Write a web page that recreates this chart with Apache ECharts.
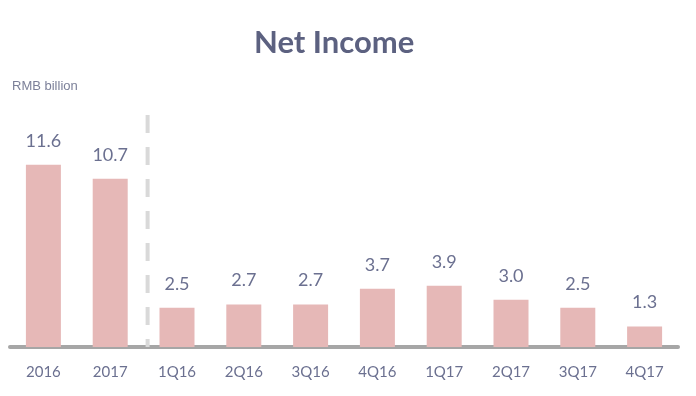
<!DOCTYPE html>
<html><head><meta charset="utf-8">
<script src="https://cdn.jsdelivr.net/npm/echarts@6/dist/echarts.min.js"></script>
<style>html,body{margin:0;padding:0;background:#fff}#c{width:696px;height:396px}</style>
</head><body><div id="c"></div>
<script>
const categories = ['2016','2017','1Q16','2Q16','3Q16','4Q16','1Q17','2Q17','3Q17','4Q17'];
const netIncome = [11.6, 10.7, 2.5, 2.7, 2.7, 3.7, 3.9, 3.0, 2.5, 1.3];
const titleText = 'Net Income';
const unitText = 'RMB billion';

const chart = echarts.init(document.getElementById('c'));
chart.setOption({
  animation: false,
  backgroundColor: '#ffffff',
  title: {
    text: titleText,
    left: 249, top: 22,
    textStyle: { fontFamily: 'Lato', fontWeight: 'bold', fontSize: 31, color: '#5c6180' }
  },
  graphic: [{
    type: 'text', left: 12, top: 80,
    style: { text: unitText, font: '13px "Liberation Sans", Arial', fill: '#7c8099' }
  }],
  grid: { left: 10, right: 18, top: 127, bottom: 49 },
  xAxis: {
    type: 'category', data: categories,
    axisLine: { lineStyle: { color: '#a6a6a6', width: 4 } },
    axisTick: { show: false },
    axisLabel: { margin: 18, fontFamily: 'Lato', fontSize: 15, color: '#6b7090' }
  },
  yAxis: { type: 'value', min: 0, max: 14, show: false, splitLine: { show: false } },
  series: [{
    type: 'bar', data: netIncome, barWidth: 35,
    itemStyle: { color: '#e6b8b7' },
    label: {
      show: true, position: 'top', distance: 15,
      formatter: p => p.value.toFixed(1),
      fontFamily: 'Lato', fontSize: 18, color: '#6b7090'
    }
  }]
});
const p1 = chart.convertToPixel({ xAxisIndex: 0 }, 1);
const p2 = chart.convertToPixel({ xAxisIndex: 0 }, 2);
const bottom = chart.convertToPixel({ yAxisIndex: 0 }, 0);
const xSep = (p1 + p2) / 2 + 4;
chart.setOption({
  graphic: [{
    type: 'text', left: 12, top: 80,
    style: { text: unitText, font: '13px "Liberation Sans", Arial', fill: '#7c8099' }
  }, {
    type: 'line', z: 10,
    shape: { x1: xSep, y1: 115, x2: xSep, y2: bottom },
    style: { stroke: '#d9d9d9', lineWidth: 4, lineDash: [18, 14] }
  }]
});
</script></body></html>
